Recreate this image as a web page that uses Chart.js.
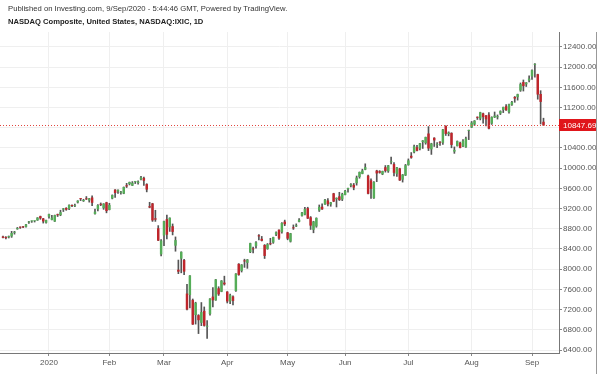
<!DOCTYPE html>
<html>
<head>
<meta charset="utf-8">
<script src="https://cdn.jsdelivr.net/npm/chart.js@4.4.1/dist/chart.umd.min.js"></script>
<style>
  html, body { margin: 0; padding: 0; background: #fff; }
  #wrap { position: relative; width: 600px; height: 374px; overflow: hidden; }
  #c { position: absolute; left: 0; top: 0; }
  .hdr { position: absolute; left: 8px; font-family: "Liberation Sans", Arial, sans-serif; white-space: nowrap; line-height: 10px; }
  #pub { top: 4px; font-size: 7.7px; color: #333; }
  #sym { top: 17px; font-size: 7.6px; font-weight: bold; color: #222; }
</style>
</head>
<body>
<div id="wrap">
  <canvas id="c" width="600" height="374"></canvas>
  <div class="hdr" id="pub">Published on Investing.com, 9/Sep/2020 - 5:44:46 GMT, Powered by TradingView.</div>
  <div class="hdr" id="sym">NASDAQ Composite, United States, NASDAQ:IXIC, 1D</div>
</div>
<script>
// daily bars, Dec 2019 - Sep 2020 (one line per month)
const dates = [
  '2019-12-09','2019-12-10','2019-12-11','2019-12-12','2019-12-13','2019-12-16','2019-12-17','2019-12-18','2019-12-19','2019-12-20','2019-12-23','2019-12-24','2019-12-26','2019-12-27','2019-12-30','2019-12-31',
  '2020-01-02','2020-01-03','2020-01-06','2020-01-07','2020-01-08','2020-01-09','2020-01-10','2020-01-13','2020-01-14','2020-01-15','2020-01-16','2020-01-17','2020-01-21','2020-01-22','2020-01-23','2020-01-24','2020-01-27','2020-01-28','2020-01-29','2020-01-30','2020-01-31',
  '2020-02-03','2020-02-04','2020-02-05','2020-02-06','2020-02-07','2020-02-10','2020-02-11','2020-02-12','2020-02-13','2020-02-14','2020-02-18','2020-02-19','2020-02-20','2020-02-21','2020-02-24','2020-02-25','2020-02-26','2020-02-27','2020-02-28',
  '2020-03-02','2020-03-03','2020-03-04','2020-03-05','2020-03-06','2020-03-09','2020-03-10','2020-03-11','2020-03-12','2020-03-13','2020-03-16','2020-03-17','2020-03-18','2020-03-19','2020-03-20','2020-03-23','2020-03-24','2020-03-25','2020-03-26','2020-03-27','2020-03-30','2020-03-31',
  '2020-04-01','2020-04-02','2020-04-03','2020-04-06','2020-04-07','2020-04-08','2020-04-09','2020-04-13','2020-04-14','2020-04-15','2020-04-16','2020-04-17','2020-04-20','2020-04-21','2020-04-22','2020-04-23','2020-04-24','2020-04-27','2020-04-28','2020-04-29','2020-04-30',
  '2020-05-01','2020-05-04','2020-05-05','2020-05-06','2020-05-07','2020-05-08','2020-05-11','2020-05-12','2020-05-13','2020-05-14','2020-05-15','2020-05-18','2020-05-19','2020-05-20','2020-05-21','2020-05-22','2020-05-26','2020-05-27','2020-05-28','2020-05-29',
  '2020-06-01','2020-06-02','2020-06-03','2020-06-04','2020-06-05','2020-06-08','2020-06-09','2020-06-10','2020-06-11','2020-06-12','2020-06-15','2020-06-16','2020-06-17','2020-06-18','2020-06-19','2020-06-22','2020-06-23','2020-06-24','2020-06-25','2020-06-26','2020-06-29','2020-06-30',
  '2020-07-01','2020-07-02','2020-07-06','2020-07-07','2020-07-08','2020-07-09','2020-07-10','2020-07-13','2020-07-14','2020-07-15','2020-07-16','2020-07-17','2020-07-20','2020-07-21','2020-07-22','2020-07-23','2020-07-24','2020-07-27','2020-07-28','2020-07-29','2020-07-30','2020-07-31',
  '2020-08-03','2020-08-04','2020-08-05','2020-08-06','2020-08-07','2020-08-10','2020-08-11','2020-08-12','2020-08-13','2020-08-14','2020-08-17','2020-08-18','2020-08-19','2020-08-20','2020-08-21','2020-08-24','2020-08-25','2020-08-26','2020-08-27','2020-08-28','2020-08-31',
  '2020-09-01','2020-09-02','2020-09-03','2020-09-04','2020-09-08'
];
const opens = [
  8648, 8620, 8630, 8650, 8722, 8792, 8832, 8838, 8838, 8924, 8946, 8951, 8966, 9050, 9005, 8919,
  9039, 8977, 8944, 9070, 9069, 9180, 9212, 9194, 9262, 9246, 9320, 9390, 9348, 9403, 9362, 9420, 9092, 9187, 9292, 9208, 9325,
  9174, 9400, 9575, 9538, 9514, 9496, 9662, 9685, 9654, 9728, 9706, 9777, 9807, 9685, 9247, 9303, 9008, 8811, 8294,
  8667, 8991, 8829, 8851, 8466, 7990, 8209, 8181, 7517, 7488, 7392, 7092, 7090, 6938, 7176, 6861, 7111, 7457, 7383, 7622, 7553, 7734,
  7556, 7364, 7460, 7568, 8106, 7967, 8159, 8126, 8337, 8395, 8459, 8671, 8602, 8480, 8399, 8501, 8528, 8687, 8782, 8734, 8942,
  8728, 8546, 8811, 8849, 8938, 9056, 9081, 9209, 9028, 8779, 8847, 9162, 9238, 9281, 9361, 9283, 9502, 9387, 9443, 9382,
  9471, 9583, 9656, 9670, 9703, 9826, 9888, 9970, 9853, 9759, 9406, 9952, 9941, 9878, 10019, 9938, 10118, 10081, 9887, 9994, 9772, 9856,
  10061, 10245, 10316, 10416, 10387, 10519, 10497, 10687, 10373, 10602, 10462, 10518, 10503, 10838, 10677, 10699, 10328, 10438, 10505, 10433, 10414, 10739,
  10806, 10866, 11003, 10982, 11085, 11043, 11060, 10883, 11006, 11009, 11083, 11152, 11227, 11109, 11254, 11410, 11405, 11538, 11706, 11662, 11737,
  11817, 12047, 11861, 11470, 10920
];
const highs = [
  8656, 8648, 8658, 8750, 8750, 8827, 8838, 8851, 8887, 8947, 8957, 8955, 9022, 9052, 9007, 8973,
  9093, 9066, 9072, 9092, 9168, 9204, 9219, 9274, 9275, 9291, 9357, 9390, 9385, 9439, 9403, 9451, 9189, 9280, 9312, 9299, 9327,
  9305, 9472, 9575, 9572, 9540, 9629, 9700, 9726, 9735, 9734, 9749, 9838, 9825, 9693, 9325, 9305, 9167, 8863, 8589,
  8953, 9071, 9018, 8896, 8639, 8181, 8345, 8194, 7699, 7875, 7410, 7346, 7100, 7340, 7253, 6985, 7418, 7637, 7798, 7653, 7776, 7862,
  7557, 7507, 7475, 7914, 8111, 8092, 8198, 8193, 8516, 8439, 8547, 8688, 8649, 8488, 8509, 8612, 8635, 8741, 8782, 8924, 8972,
  8730, 8711, 8877, 8898, 9001, 9127, 9223, 9227, 9043, 8949, 9018, 9272, 9295, 9383, 9396, 9325, 9504, 9414, 9523, 9505,
  9563, 9608, 9693, 9698, 9845, 9926, 9980, 10087, 9864, 9791, 9736, 9960, 9952, 9943, 10053, 10057, 10221, 10113, 10017, 10000, 9876, 10075,
  10184, 10310, 10458, 10452, 10493, 10549, 10617, 10824, 10494, 10605, 10506, 10527, 10772, 10840, 10720, 10702, 10421, 10540, 10515, 10567, 10614, 10754,
  10925, 10944, 11017, 11109, 11090, 11046, 11101, 11019, 11113, 11055, 11137, 11211, 11262, 11270, 11322, 11420, 11467, 11688, 11747, 11697, 11829,
  11946, 12074, 11862, 11535, 10990
];
const lows = [
  8617, 8600, 8618, 8630, 8694, 8790, 8807, 8821, 8833, 8905, 8927, 8934, 8966, 8988, 8913, 8913,
  9011, 8977, 8944, 9043, 9059, 9142, 9166, 9178, 9237, 9239, 9310, 9358, 9341, 9379, 9328, 9260, 9089, 9155, 9258, 9185, 9116,
  9174, 9392, 9421, 9502, 9488, 9494, 9617, 9668, 9654, 9696, 9686, 9769, 9659, 9531, 9216, 8946, 8947, 8566, 8264,
  8465, 8600, 8748, 8679, 8356, 7911, 7928, 7894, 7195, 7232, 6905, 6913, 6725, 6882, 6872, 6631, 7092, 7255, 7383, 7480, 7553, 7685,
  7331, 7319, 7292, 7561, 7879, 7944, 8036, 8017, 8327, 8324, 8416, 8581, 8558, 8212, 8394, 8482, 8512, 8663, 8589, 8712, 8861,
  8582, 8537, 8788, 8843, 8935, 9052, 9073, 9002, 8787, 8721, 8830, 9143, 9184, 9281, 9254, 9246, 9336, 9232, 9360, 9358,
  9471, 9525, 9631, 9572, 9664, 9802, 9888, 9968, 9492, 9403, 9403, 9734, 9901, 9871, 9922, 9917, 10083, 9847, 9838, 9757, 9725, 9854,
  10059, 10196, 10302, 10341, 10364, 10391, 10475, 10349, 10273, 10430, 10408, 10449, 10473, 10648, 10641, 10404, 10294, 10438, 10400, 10428, 10410, 10566,
  10805, 10846, 10965, 10956, 10891, 10836, 10776, 10867, 11002, 10973, 11062, 11101, 11145, 11091, 11244, 11305, 11348, 11521, 11528, 11618, 11708,
  11760, 11803, 11366, 10875, 10845
];
const closes = [
  8622, 8616, 8654, 8717, 8735, 8814, 8823, 8828, 8887, 8925, 8946, 8953, 9022, 9007, 8946, 8973,
  9092, 9021, 9071, 9069, 9129, 9203, 9179, 9274, 9251, 9259, 9357, 9389, 9371, 9384, 9402, 9315, 9139, 9270, 9275, 9299, 9151,
  9273, 9468, 9509, 9572, 9521, 9628, 9639, 9726, 9712, 9731, 9733, 9817, 9751, 9577, 9221, 8966, 8981, 8566, 8567,
  8952, 8684, 9018, 8739, 8576, 7951, 8344, 7952, 7202, 7875, 6905, 7335, 6990, 7151, 6880, 6861, 7418, 7384, 7798, 7502, 7774, 7700,
  7361, 7487, 7373, 7913, 7887, 8091, 8154, 8192, 8516, 8393, 8532, 8650, 8561, 8263, 8495, 8495, 8635, 8730, 8608, 8915, 8890,
  8605, 8711, 8809, 8854, 8980, 9121, 9192, 9003, 8863, 8944, 9015, 9235, 9185, 9376, 9285, 9325, 9340, 9412, 9369, 9490,
  9552, 9608, 9683, 9616, 9814, 9925, 9954, 10020, 9493, 9589, 9726, 9896, 9911, 9943, 9946, 10056, 10131, 9909, 10017, 9757, 9874, 10059,
  10155, 10208, 10434, 10344, 10493, 10548, 10617, 10391, 10489, 10550, 10474, 10503, 10767, 10680, 10706, 10461, 10363, 10536, 10402, 10543, 10588, 10745,
  10903, 10941, 10998, 11108, 11011, 10968, 10783, 11012, 11042, 11019, 11130, 11211, 11146, 11265, 11312, 11380, 11466, 11665, 11625, 11696, 11775,
  11940, 12056, 11458, 11313, 10847.69
];
const monthLabels = ['2020', 'Feb', 'Mar', 'Apr', 'May', 'Jun', 'Jul', 'Aug', 'Sep'];
const priceTicks = [6400, 6800, 7200, 7600, 8000, 8400, 8800, 9200, 9600, 10000, 10400, 10800, 11200, 11600, 12000, 12400];
const lastPrice = 10847.69;

// index of the first bar of every month (Jan 2020 onward)
const monthStarts = [];
dates.forEach((d, i) => {
  if (i > 0 && d.slice(0, 7) !== dates[i - 1].slice(0, 7)) monthStarts.push(i);
});

const up = closes.map((c, i) => c >= opens[i]);
const bodies = dates.map((d, i) => ({ x: i, y: [opens[i], closes[i]] }));
const wicks = dates.map((d, i) => ({ x: i, y: [lows[i], highs[i]] }));

const axisFont = { family: '"Liberation Sans", Arial, sans-serif', size: 8 };

// last price dotted line + red label, and the right frame line
const priceLine = {
  id: 'priceLine',
  afterDatasetsDraw(chart) {
    const { ctx, chartArea, scales } = chart;
    const y = Math.round(scales.y.getPixelForValue(lastPrice)) + 0.5;
    ctx.save();
    ctx.strokeStyle = '#e2463f';
    ctx.lineWidth = 1;
    ctx.setLineDash([1, 2]);
    ctx.beginPath();
    ctx.moveTo(chartArea.left, y);
    ctx.lineTo(chartArea.right, y);
    ctx.stroke();
    ctx.restore();
  },
  afterDraw(chart) {
    const { ctx, chartArea, scales } = chart;
    const y = Math.round(scales.y.getPixelForValue(lastPrice));
    ctx.save();
    ctx.fillStyle = '#e0161b';
    ctx.fillRect(chartArea.right, y - 6, 37, 12);
    ctx.fillStyle = '#fff';
    ctx.font = '8px "Liberation Sans", Arial, sans-serif';
    ctx.textBaseline = 'middle';
    ctx.fillText(lastPrice.toFixed(2), chartArea.right + 4, y + 0.5);
    ctx.strokeStyle = '#999';
    ctx.beginPath();
    ctx.moveTo(596.5, chartArea.top);
    ctx.lineTo(596.5, chart.height);
    ctx.stroke();
    ctx.restore();
  }
};

new Chart(document.getElementById('c').getContext('2d'), {
  type: 'bar',
  data: {
    datasets: [
      {
        data: bodies,
        backgroundColor: up.map(u => u ? '#55ad58' : '#bf252b'),
        borderWidth: 0,
        borderSkipped: false,
        categoryPercentage: 1,
        barPercentage: 0.85,
        minBarLength: 1,
        grouped: false,
        order: 1
      },
      {
        data: wicks,
        backgroundColor: '#555',
        barThickness: 1,
        grouped: false,
        order: 2
      }
    ]
  },
  options: {
    responsive: false,
    animation: false,
    devicePixelRatio: 1,
    layout: { padding: { top: 32, left: 0, right: 0, bottom: 0 } },
    plugins: { legend: { display: false }, tooltip: { enabled: false } },
    scales: {
      x: {
        type: 'linear',
        bounds: 'data',
        min: -1.04,
        max: 193.39,
        offset: false,
        afterBuildTicks: s => { s.ticks = monthStarts.map(v => ({ value: v })); },
        afterFit: s => { s.height = 21; },
        ticks: {
          callback: (v, i) => monthLabels[i],
          autoSkip: false,
          maxRotation: 0,
          color: '#555',
          font: axisFont,
          padding: 2
        },
        grid: { offset: false, color: '#efefef', tickColor: '#888', tickLength: 3 },
        border: { color: '#777' }
      },
      y: {
        position: 'right',
        bounds: 'data',
        min: 6340.6,
        max: 12697,
        afterBuildTicks: s => { s.ticks = priceTicks.map(v => ({ value: v })); },
        afterFit: s => { s.width = 41; },
        ticks: {
          callback: v => v.toFixed(2),
          autoSkip: false,
          color: '#555',
          font: axisFont,
          padding: 1
        },
        grid: { color: '#efefef', tickColor: '#888', tickLength: 3 },
        border: { color: '#777' }
      }
    }
  },
  plugins: [priceLine]
});
</script>
</body>
</html>
